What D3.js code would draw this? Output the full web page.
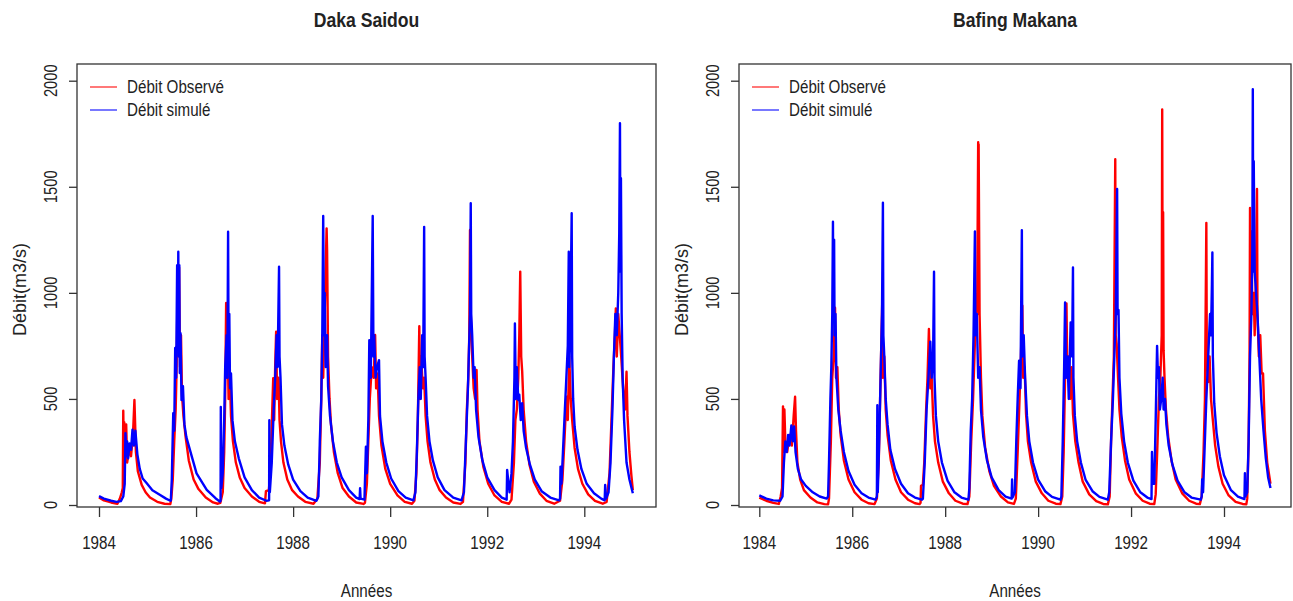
<!DOCTYPE html>
<meta charset="utf-8">
<style>
    body { margin: 0; background: #fff; }
    svg text { font-family: "Liberation Sans", Arial, sans-serif; fill: #222; }
</style>
<svg id="chart" width="1293" height="601"></svg>
<script src="https://d3js.org/d3.v7.min.js"></script>
<script>

    // axis ticks
    var yearTicks = [1984, 1986, 1988, 1990, 1992, 1994];
    var flowTicks = [0, 500, 1000, 1500, 2000];

    // Daka Saidou, observed: [year, m3/s]
    var dakaObs = [
        [1984.00, 35], [1984.10, 22], [1984.25, 12], [1984.38, 6], [1984.43, 30], [1984.47, 60], [1984.49, 80],
        [1984.50, 444], [1984.51, 250], [1984.52, 390], [1984.54, 300], [1984.56, 380], [1984.58, 200], [1984.62, 260],
        [1984.66, 230], [1984.70, 330], [1984.73, 495], [1984.745, 380], [1984.76, 250], [1984.80, 160], [1984.88, 95],
        [1984.96, 60], [1985.05, 35], [1985.20, 15], [1985.35, 6], [1985.47, 4],
        [1985.49, 30], [1985.52, 120], [1985.55, 300], [1985.58, 450], [1985.60, 650], [1985.62, 1050], [1985.635, 800],
        [1985.65, 1120], [1985.67, 650], [1985.69, 800], [1985.71, 520], [1985.74, 420], [1985.78, 330], [1985.85, 210],
        [1985.95, 120], [1986.05, 75], [1986.20, 35], [1986.35, 12], [1986.45, 6],
        [1986.50, 10], [1986.55, 60], [1986.58, 250], [1986.60, 500], [1986.62, 952], [1986.635, 600], [1986.65, 780],
        [1986.67, 500], [1986.70, 580], [1986.72, 420], [1986.76, 300], [1986.82, 200], [1986.90, 130], [1987.00, 80],
        [1987.15, 40], [1987.30, 15], [1987.42, 8],
        [1987.44, 65], [1987.50, 70], [1987.53, 150], [1987.57, 450], [1987.59, 598], [1987.61, 400], [1987.63, 650],
        [1987.65, 817], [1987.67, 500], [1987.70, 600], [1987.72, 400], [1987.75, 300], [1987.80, 200], [1987.88, 120],
        [1987.98, 70], [1988.10, 40], [1988.25, 15], [1988.42, 6],
        [1988.50, 30], [1988.55, 200], [1988.58, 500], [1988.60, 800], [1988.62, 600], [1988.65, 900], [1988.69, 1304],
        [1988.70, 1200], [1988.72, 700], [1988.75, 500], [1988.78, 380], [1988.84, 250], [1988.92, 150], [1989.02, 80],
        [1989.15, 40], [1989.30, 12], [1989.45, 5],
        [1989.48, 10], [1989.52, 100], [1989.55, 300], [1989.58, 500], [1989.62, 650], [1989.66, 600], [1989.69, 801],
        [1989.71, 550], [1989.74, 620], [1989.77, 420], [1989.82, 280], [1989.90, 170], [1990.00, 100], [1990.15, 45],
        [1990.30, 15], [1990.45, 6],
        [1990.50, 20], [1990.54, 150], [1990.57, 400], [1990.60, 843], [1990.62, 500], [1990.64, 700], [1990.67, 550],
        [1990.70, 600], [1990.73, 420], [1990.77, 300], [1990.83, 200], [1990.92, 120], [1991.02, 70], [1991.15, 35],
        [1991.30, 12], [1991.45, 5],
        [1991.50, 15], [1991.55, 200], [1991.58, 450], [1991.61, 600], [1991.63, 800], [1991.645, 1296], [1991.66, 900],
        [1991.69, 700], [1991.72, 550], [1991.75, 500], [1991.78, 636], [1991.80, 450], [1991.84, 300], [1991.92, 180],
        [1992.02, 100], [1992.15, 45], [1992.30, 15], [1992.45, 6],
        [1992.50, 25], [1992.55, 200], [1992.58, 400], [1992.61, 450], [1992.64, 600], [1992.66, 800], [1992.68, 1100],
        [1992.70, 700], [1992.72, 630], [1992.75, 450], [1992.80, 300], [1992.87, 190], [1992.96, 110], [1993.08, 55],
        [1993.22, 20], [1993.38, 6],
        [1993.50, 20], [1993.55, 120], [1993.59, 300], [1993.62, 450], [1993.64, 510], [1993.66, 400], [1993.69, 700],
        [1993.72, 500], [1993.75, 400], [1993.80, 270], [1993.87, 170], [1993.96, 100], [1994.08, 50], [1994.22, 20],
        [1994.38, 6],
        [1994.46, 15], [1994.52, 150], [1994.56, 400], [1994.60, 650], [1994.63, 800], [1994.65, 927], [1994.67, 700],
        [1994.70, 900], [1994.73, 800], [1994.76, 700], [1994.80, 550], [1994.84, 450], [1994.87, 628], [1994.89, 420],
        [1994.93, 250], [1994.97, 140], [1995.00, 70]
    ];

    // Daka Saidou, simulated
    var dakaSim = [
        [1984.00, 42], [1984.10, 30], [1984.25, 20], [1984.36, 15], [1984.45, 18], [1984.50, 40], [1984.53, 100],
        [1984.545, 339], [1984.56, 230], [1984.58, 300], [1984.60, 220], [1984.63, 290], [1984.66, 260], [1984.69, 355],
        [1984.72, 280], [1984.75, 350], [1984.79, 240], [1984.84, 170], [1984.90, 125], [1984.98, 104], [1985.10, 70],
        [1985.26, 47], [1985.38, 30], [1985.47, 20],
        [1985.48, 22], [1985.50, 120], [1985.53, 433], [1985.55, 350], [1985.57, 740], [1985.59, 600], [1985.61, 1130],
        [1985.625, 800], [1985.634, 1194], [1985.645, 700], [1985.655, 1130], [1985.665, 622], [1985.68, 810],
        [1985.70, 495], [1985.73, 560], [1985.76, 380], [1985.80, 320], [1985.875, 259], [1986.01, 149], [1986.22, 71],
        [1986.40, 32], [1986.49, 16],
        [1986.505, 20], [1986.51, 462], [1986.52, 80], [1986.55, 150], [1986.58, 400], [1986.60, 650], [1986.63, 800],
        [1986.645, 600], [1986.66, 1288], [1986.67, 700], [1986.685, 900], [1986.70, 550], [1986.72, 620], [1986.75, 400],
        [1986.80, 300], [1986.88, 220], [1987.00, 130], [1987.15, 70], [1987.30, 35], [1987.45, 20],
        [1987.505, 22], [1987.51, 400], [1987.52, 60], [1987.56, 200], [1987.60, 450], [1987.63, 600], [1987.66, 800],
        [1987.68, 650], [1987.71, 1123], [1987.72, 700], [1987.74, 600], [1987.77, 380], [1987.82, 280], [1987.90, 190],
        [1988.00, 120], [1988.15, 65], [1988.30, 35], [1988.48, 20],
        [1988.52, 40], [1988.54, 200], [1988.55, 300], [1988.58, 500], [1988.60, 780], [1988.62, 1362], [1988.635, 800],
        [1988.65, 1000], [1988.67, 650], [1988.70, 800], [1988.72, 560], [1988.76, 420], [1988.82, 300], [1988.90, 200],
        [1989.00, 130], [1989.15, 70], [1989.30, 35], [1989.37, 28], [1989.38, 79], [1989.39, 30], [1989.47, 25],
        [1989.50, 275], [1989.52, 150], [1989.55, 400], [1989.57, 777], [1989.60, 600], [1989.64, 1362], [1989.655, 700],
        [1989.67, 800], [1989.70, 600], [1989.73, 650], [1989.77, 683], [1989.79, 420], [1989.84, 300], [1989.92, 200],
        [1990.02, 125], [1990.17, 65], [1990.32, 35], [1990.48, 22],
        [1990.52, 60], [1990.55, 250], [1990.58, 500], [1990.61, 650], [1990.63, 500], [1990.66, 800], [1990.68, 650],
        [1990.70, 1311], [1990.71, 700], [1990.73, 600], [1990.76, 420], [1990.81, 300], [1990.88, 210], [1990.98, 130],
        [1991.12, 70], [1991.30, 35], [1991.47, 22],
        [1991.52, 60], [1991.56, 300], [1991.60, 535], [1991.62, 700], [1991.645, 900], [1991.66, 1422], [1991.67, 900],
        [1991.69, 800], [1991.72, 600], [1991.74, 650], [1991.77, 450], [1991.82, 320], [1991.90, 210], [1992.00, 130],
        [1992.15, 70], [1992.30, 35], [1992.40, 25], [1992.41, 165], [1992.43, 120], [1992.46, 60],
        [1992.50, 150], [1992.53, 300], [1992.56, 600], [1992.57, 856], [1992.59, 500], [1992.61, 650], [1992.64, 495],
        [1992.66, 520], [1992.69, 400], [1992.72, 480], [1992.75, 350], [1992.80, 270], [1992.88, 190], [1992.98, 120],
        [1993.12, 65], [1993.30, 35], [1993.48, 22],
        [1993.50, 30], [1993.51, 181], [1993.53, 100], [1993.56, 250], [1993.60, 450], [1993.63, 600], [1993.66, 750],
        [1993.68, 1194], [1993.69, 650], [1993.71, 800], [1993.74, 1375], [1993.75, 700], [1993.77, 500], [1993.80, 370],
        [1993.86, 260], [1993.94, 170], [1994.05, 100], [1994.20, 55], [1994.35, 30], [1994.42, 22], [1994.43, 94],
        [1994.45, 30],
        [1994.50, 60], [1994.54, 200], [1994.58, 450], [1994.61, 700], [1994.64, 900], [1994.67, 800], [1994.70, 1000],
        [1994.72, 1280], [1994.735, 1800], [1994.745, 1100], [1994.755, 1540], [1994.77, 900], [1994.79, 600],
        [1994.82, 400], [1994.87, 200], [1994.93, 120], [1995.00, 55]
    ];

    // Bafing Makana, observed
    var bafingObs = [
        [1984.00, 35], [1984.15, 20], [1984.30, 10], [1984.42, 5], [1984.46, 40], [1984.49, 80], [1984.51, 465],
        [1984.52, 250], [1984.54, 450], [1984.56, 300], [1984.60, 250], [1984.65, 330], [1984.70, 280], [1984.74, 420],
        [1984.77, 510], [1984.79, 350], [1984.82, 200], [1984.88, 120], [1984.96, 70], [1985.10, 35], [1985.25, 12],
        [1985.40, 4], [1985.48, 3],
        [1985.50, 30], [1985.54, 300], [1985.57, 600], [1985.60, 700], [1985.63, 930], [1985.65, 600], [1985.68, 650],
        [1985.71, 450], [1985.75, 330], [1985.82, 210], [1985.92, 120], [1986.05, 60], [1986.20, 25], [1986.35, 8],
        [1986.48, 4],
        [1986.53, 30], [1986.57, 200], [1986.60, 500], [1986.62, 700], [1986.645, 950], [1986.66, 600], [1986.69, 700],
        [1986.72, 450], [1986.76, 330], [1986.83, 210], [1986.93, 120], [1987.05, 60], [1987.20, 25], [1987.35, 8],
        [1987.45, 4],
        [1987.47, 10], [1987.48, 90], [1987.52, 95], [1987.55, 200], [1987.59, 450], [1987.62, 600], [1987.65, 830],
        [1987.68, 550], [1987.71, 600], [1987.74, 420], [1987.78, 300], [1987.85, 200], [1987.95, 110], [1988.08, 55],
        [1988.22, 20], [1988.38, 6], [1988.48, 4],
        [1988.52, 40], [1988.56, 300], [1988.60, 500], [1988.63, 700], [1988.66, 900], [1988.69, 1000], [1988.71, 1710],
        [1988.715, 900], [1988.72, 1700], [1988.74, 900], [1988.77, 600], [1988.80, 420], [1988.86, 270], [1988.95, 160],
        [1989.05, 90], [1989.20, 40], [1989.35, 12], [1989.48, 5],
        [1989.52, 30], [1989.56, 250], [1989.60, 500], [1989.63, 700], [1989.66, 940], [1989.68, 600], [1989.71, 650],
        [1989.74, 430], [1989.78, 300], [1989.85, 200], [1989.95, 110], [1990.08, 55], [1990.22, 20], [1990.38, 6],
        [1990.48, 4],
        [1990.52, 40], [1990.55, 250], [1990.58, 600], [1990.61, 950], [1990.63, 600], [1990.66, 700], [1990.69, 500],
        [1990.72, 650], [1990.75, 430], [1990.80, 300], [1990.87, 200], [1990.96, 110], [1991.10, 50], [1991.25, 18],
        [1991.40, 5], [1991.50, 3],
        [1991.54, 40], [1991.57, 300], [1991.60, 500], [1991.63, 700], [1991.66, 1630], [1991.67, 800], [1991.69, 760],
        [1991.72, 600], [1991.75, 450], [1991.80, 320], [1991.87, 210], [1991.96, 120], [1992.10, 55], [1992.25, 20],
        [1992.40, 6], [1992.50, 4],
        [1992.53, 50], [1992.57, 300], [1992.60, 500], [1992.63, 600], [1992.66, 800], [1992.67, 1865], [1992.68, 900],
        [1992.69, 1380], [1992.70, 730], [1992.72, 600], [1992.75, 450], [1992.80, 320], [1992.87, 210], [1992.96, 120],
        [1993.10, 55], [1993.25, 20], [1993.40, 6], [1993.48, 4],
        [1993.52, 40], [1993.56, 250], [1993.59, 500], [1993.62, 1330], [1993.63, 700], [1993.66, 580], [1993.69, 700],
        [1993.72, 500], [1993.76, 400], [1993.81, 280], [1993.88, 180], [1993.97, 100], [1994.10, 45], [1994.25, 15],
        [1994.40, 5], [1994.48, 3],
        [1994.50, 30], [1994.53, 300], [1994.55, 700], [1994.56, 1400], [1994.57, 800], [1994.59, 1290], [1994.61, 900],
        [1994.64, 1000], [1994.66, 800], [1994.69, 1100], [1994.71, 1490], [1994.72, 900], [1994.75, 700], [1994.78, 800],
        [1994.81, 620], [1994.84, 620], [1994.88, 350], [1994.93, 200], [1995.00, 100]
    ];

    // Bafing Makana, simulated
    var bafingSim = [
        [1984.00, 45], [1984.15, 30], [1984.30, 22], [1984.45, 20], [1984.50, 40], [1984.53, 200], [1984.56, 300],
        [1984.59, 250], [1984.62, 330], [1984.65, 280], [1984.69, 375], [1984.72, 300], [1984.75, 370], [1984.78, 250],
        [1984.83, 170], [1984.90, 120], [1985.00, 90], [1985.15, 60], [1985.30, 40], [1985.45, 30],
        [1985.48, 40], [1985.50, 200], [1985.53, 500], [1985.55, 650], [1985.57, 900], [1985.585, 1335], [1985.595, 900],
        [1985.61, 1250], [1985.62, 800], [1985.64, 900], [1985.66, 600], [1985.70, 450], [1985.75, 350], [1985.82, 250],
        [1985.92, 160], [1986.05, 95], [1986.20, 55], [1986.35, 35], [1986.50, 25],
        [1986.53, 40], [1986.54, 470], [1986.55, 60], [1986.58, 300], [1986.61, 600], [1986.64, 900], [1986.66, 1425],
        [1986.67, 800], [1986.69, 700], [1986.72, 500], [1986.76, 380], [1986.82, 260], [1986.92, 170], [1987.05, 100],
        [1987.20, 55], [1987.35, 35], [1987.50, 25],
        [1987.52, 30], [1987.56, 200], [1987.60, 450], [1987.64, 600], [1987.68, 770], [1987.71, 600], [1987.74, 700],
        [1987.76, 1100], [1987.77, 600], [1987.80, 420], [1987.85, 300], [1987.93, 200], [1988.05, 115], [1988.20, 60],
        [1988.35, 35], [1988.50, 25],
        [1988.52, 80], [1988.55, 350], [1988.58, 500], [1988.61, 800], [1988.64, 1290], [1988.65, 800], [1988.68, 900],
        [1988.71, 600], [1988.74, 650], [1988.77, 450], [1988.82, 320], [1988.90, 210], [1989.00, 130], [1989.15, 70],
        [1989.30, 40], [1989.43, 30], [1989.44, 120], [1989.45, 35],
        [1989.50, 60], [1989.53, 300], [1989.56, 500], [1989.59, 680], [1989.62, 550], [1989.65, 1295], [1989.66, 700],
        [1989.69, 800], [1989.72, 600], [1989.76, 420], [1989.81, 300], [1989.89, 200], [1990.00, 120], [1990.15, 65],
        [1990.30, 38], [1990.48, 25],
        [1990.50, 40], [1990.53, 300], [1990.56, 650], [1990.58, 955], [1990.60, 600], [1990.63, 700], [1990.66, 500],
        [1990.70, 860], [1990.73, 700], [1990.75, 1120], [1990.76, 600], [1990.79, 420], [1990.84, 300], [1990.92, 200],
        [1991.02, 120], [1991.17, 65], [1991.32, 38], [1991.50, 25],
        [1991.53, 60], [1991.57, 300], [1991.61, 500], [1991.64, 700], [1991.67, 900], [1991.70, 1490], [1991.71, 900],
        [1991.73, 920], [1991.75, 600], [1991.79, 430], [1991.85, 300], [1991.93, 200], [1992.05, 115], [1992.20, 60],
        [1992.35, 35], [1992.44, 28], [1992.45, 250], [1992.47, 100],
        [1992.50, 100], [1992.53, 400], [1992.56, 750], [1992.58, 600], [1992.60, 650], [1992.62, 450], [1992.65, 500],
        [1992.68, 600], [1992.70, 450], [1992.73, 500], [1992.76, 380], [1992.81, 280], [1992.89, 190], [1993.00, 115],
        [1993.15, 60], [1993.30, 35], [1993.50, 25],
        [1993.52, 40], [1993.53, 120], [1993.55, 60], [1993.58, 250], [1993.62, 500], [1993.66, 700], [1993.70, 900],
        [1993.72, 800], [1993.74, 1040], [1993.75, 1190], [1993.76, 700], [1993.79, 480], [1993.84, 340], [1993.91, 230],
        [1994.00, 140], [1994.15, 70], [1994.30, 40], [1994.44, 28], [1994.45, 150], [1994.46, 40],
        [1994.50, 60], [1994.53, 300], [1994.56, 700], [1994.59, 900], [1994.61, 1200], [1994.62, 1960], [1994.63, 1100],
        [1994.64, 1620], [1994.66, 1100], [1994.69, 1000], [1994.72, 900], [1994.76, 700], [1994.80, 500], [1994.85, 350],
        [1994.90, 220], [1994.95, 130], [1995.00, 80]
    ];

    var legendLabels = ["Débit Observé", "Débit simulé"];
    var colors = ["#ff0000", "#0000ff"];

    var panels = [
        { title: "Daka Saidou", obs: dakaObs, sim: dakaSim, left: 77, right: 656, x84: 99, x94: 584.3 },
        { title: "Bafing Makana", obs: bafingObs, sim: bafingSim, left: 739, right: 1291, x84: 759.3, x94: 1224 }
    ];

    var boxTop = 64, boxBottom = 507;
    var narrow = 0.82;   // the source font is a condensed Arial
    var svg = d3.select("#chart");

    // text helper: place, rotate, then squeeze along the writing direction
    function label(g, x, y, txt, size, opts) {
        opts = opts || {};
        return g.append("text")
            .attr("transform", "translate(" + x + "," + y + ")" + (opts.rot ? " rotate(" + opts.rot + ")" : "") +
                " scale(" + (opts.sx || narrow) + ",1)")
            .attr("text-anchor", opts.anchor || "middle")
            .attr("font-size", size)
            .attr("font-weight", opts.bold ? "bold" : null)
            .text(txt);
    }

    panels.forEach(function(p) {
        var x = d3.scaleLinear().domain([1984, 1994]).range([p.x84, p.x94]);
        var y = d3.scaleLinear().domain([0, 2000]).range([505, 80.7]);
        var g = svg.append("g");

        var line = d3.line()
            .x(function(d) { return x(d[0]); })
            .y(function(d) { return y(d[1]); });

        [p.obs, p.sim].forEach(function(s, i) {
            g.append("path")
                .attr("d", line(s))
                .attr("fill", "none")
                .attr("stroke", colors[i])
                .attr("stroke-width", 2.4)
                .attr("stroke-linejoin", "round");
        });

        // frame
        g.append("rect")
            .attr("x", p.left).attr("y", boxTop)
            .attr("width", p.right - p.left).attr("height", boxBottom - boxTop)
            .attr("fill", "none").attr("stroke", "#333").attr("stroke-width", 1.3);

        // x axis
        var xa = g.append("g").attr("transform", "translate(0," + boxBottom + ")")
            .call(d3.axisBottom(x).tickValues(yearTicks).tickFormat(d3.format("d")).tickSize(10));
        xa.select(".domain").remove();
        xa.selectAll("line").attr("stroke", "#333").attr("stroke-width", 1.3);
        xa.selectAll("text").remove();
        yearTicks.forEach(function(t) { label(g, x(t), 549, t, 18.5); });

        // y axis
        var ya = g.append("g").attr("transform", "translate(" + p.left + ",0)")
            .call(d3.axisLeft(y).tickValues(flowTicks).tickSize(8));
        ya.select(".domain").remove();
        ya.selectAll("line").attr("stroke", "#333").attr("stroke-width", 1.3);
        ya.selectAll("text").remove();
        flowTicks.forEach(function(t) { label(g, p.left - 20, y(t), t, 18, { rot: -90 }); });

        var cx = (p.left + p.right) / 2;
        label(g, cx, 27, p.title, 20, { bold: true, sx: 0.88 });
        label(g, cx, 597, "Années", 18.5);
        label(g, p.left - 51, (boxTop + boxBottom) / 2 + 4, "Débit(m3/s)", 18, { rot: -90, sx: 1 });

        // legend
        legendLabels.forEach(function(l, i) {
            var ly = 87 + i * 23;
            g.append("line")
                .attr("x1", p.left + 13).attr("x2", p.left + 40)
                .attr("y1", ly).attr("y2", ly)
                .attr("stroke", colors[i]).attr("stroke-width", 1.5).attr("opacity", 0.7);
            label(g, p.left + 50, ly + 6, l, 18.5, { anchor: "start" });
        });
    });

</script>
